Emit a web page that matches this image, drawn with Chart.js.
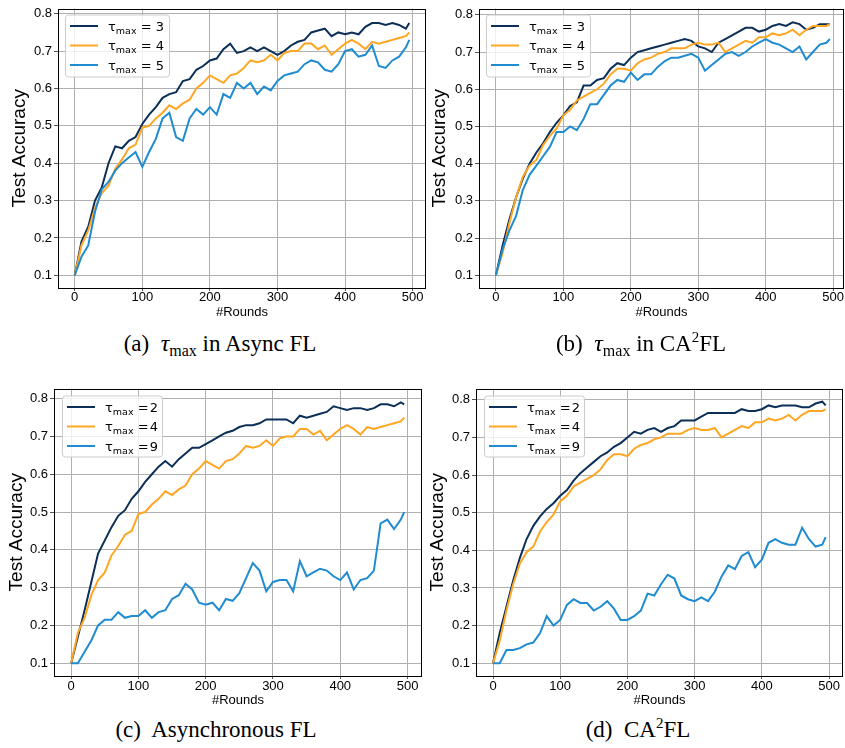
<!DOCTYPE html>
<html>
<head>
<meta charset="utf-8">
<script src="https://cdn.jsdelivr.net/npm/chart.js@4.4.1/dist/chart.umd.min.js"></script>
<style>
  body { margin: 0; background: #fff; }
  #page { position: relative; width: 845px; height: 748px; overflow: hidden; background: #fff; }
  canvas { position: absolute; }
  .cap {
    position: absolute; white-space: nowrap; transform: translateX(-50%);
    font-family: "Liberation Serif", "Times New Roman", serif; font-size: 23px; line-height: 1; color: #000;
  }
  .cap i { font-size: 24px; }
  .cap sub { font-size: 16px; vertical-align: -5px; line-height: 0; }
  .cap sup { font-size: 15px; vertical-align: 9px; line-height: 0; }
</style>
</head>
<body>
<div id="page">
  <canvas id="chartA" width="430" height="330" style="left:0;top:0"></canvas>
  <canvas id="chartB" width="424" height="330" style="left:421px;top:0"></canvas>
  <canvas id="chartC" width="430" height="330" style="left:0;top:380px"></canvas>
  <canvas id="chartD" width="424" height="330" style="left:421px;top:380px"></canvas>

  <div class="cap" style="left:220px;top:331px">(a)&nbsp;&nbsp;<i>τ</i><sub>max</sub> in Async FL</div>
  <div class="cap" style="left:641px;top:331px">(b)&nbsp;&nbsp;<i>τ</i><sub>max</sub> in CA<sup>2</sup>FL</div>
  <div class="cap" style="left:216px;top:718px">(c)&nbsp; Asynchronous FL</div>
  <div class="cap" style="left:638px;top:718px">(d)&nbsp; CA<sup>2</sup>FL</div>
</div>

<script>
// Datos: precisión de prueba cada 10 rondas
const rounds = [0, 10, 20, 30, 40, 50, 60, 70, 80, 90, 100, 110, 120, 130, 140, 150, 160, 170, 180, 190,
  200, 210, 220, 230, 240, 250, 260, 270, 280, 290, 300, 310, 320, 330, 340, 350, 360, 370, 380, 390,
  400, 410, 420, 430, 440, 450, 460, 470, 480, 490, 495];

const xTicks = [0, 100, 200, 300, 400, 500];
const yTicks = [0.1, 0.2, 0.3, 0.4, 0.5, 0.6, 0.7, 0.8];

// (a) Async FL
const asyncTau3 = [0.10, 0.19, 0.23, 0.30, 0.335, 0.40, 0.445, 0.44, 0.46, 0.47, 0.505, 0.53, 0.55, 0.575, 0.585, 0.59, 0.62, 0.625, 0.65, 0.66,
  0.675, 0.68, 0.705, 0.72, 0.695, 0.70, 0.71, 0.70, 0.71, 0.70, 0.69, 0.70, 0.715, 0.725, 0.73, 0.75, 0.755, 0.76, 0.74, 0.75,
  0.745, 0.75, 0.745, 0.765, 0.775, 0.775, 0.77, 0.775, 0.77, 0.76, 0.775];
const asyncTau4 = [0.10, 0.18, 0.22, 0.28, 0.32, 0.34, 0.385, 0.41, 0.44, 0.45, 0.495, 0.50, 0.52, 0.535, 0.555, 0.545, 0.56, 0.57, 0.60, 0.615,
  0.635, 0.625, 0.615, 0.635, 0.64, 0.655, 0.675, 0.67, 0.675, 0.69, 0.675, 0.695, 0.70, 0.70, 0.72, 0.72, 0.705, 0.715, 0.69, 0.705,
  0.72, 0.73, 0.72, 0.705, 0.725, 0.72, 0.725, 0.73, 0.735, 0.74, 0.75];
const asyncTau5 = [0.10, 0.15, 0.18, 0.27, 0.33, 0.35, 0.38, 0.40, 0.415, 0.43, 0.39, 0.43, 0.465, 0.52, 0.535, 0.47, 0.46, 0.52, 0.545, 0.53,
  0.55, 0.53, 0.585, 0.575, 0.615, 0.60, 0.615, 0.585, 0.605, 0.595, 0.62, 0.635, 0.64, 0.645, 0.665, 0.675, 0.67, 0.65, 0.645, 0.665,
  0.70, 0.705, 0.685, 0.69, 0.715, 0.66, 0.655, 0.675, 0.685, 0.71, 0.73];

// (b) CA2FL
const caTau3 = [0.10, 0.18, 0.25, 0.31, 0.36, 0.40, 0.43, 0.455, 0.485, 0.51, 0.53, 0.555, 0.565, 0.61, 0.61, 0.625, 0.63, 0.655, 0.67, 0.665,
  0.685, 0.70, 0.705, 0.71, 0.715, 0.72, 0.725, 0.73, 0.735, 0.73, 0.715, 0.71, 0.70, 0.725, 0.735, 0.745, 0.755, 0.765, 0.765, 0.755,
  0.76, 0.77, 0.775, 0.77, 0.78, 0.775, 0.76, 0.765, 0.775, 0.775, 0.775];
const caTau4 = [0.10, 0.16, 0.24, 0.31, 0.365, 0.395, 0.41, 0.45, 0.475, 0.495, 0.53, 0.545, 0.57, 0.58, 0.59, 0.60, 0.615, 0.64, 0.655, 0.655,
  0.65, 0.67, 0.68, 0.685, 0.695, 0.70, 0.71, 0.71, 0.71, 0.72, 0.725, 0.72, 0.72, 0.725, 0.70, 0.71, 0.72, 0.73, 0.725, 0.74,
  0.74, 0.75, 0.745, 0.75, 0.76, 0.745, 0.76, 0.77, 0.77, 0.77, 0.775];
const caTau5 = [0.10, 0.17, 0.22, 0.26, 0.33, 0.37, 0.395, 0.42, 0.445, 0.485, 0.485, 0.50, 0.49, 0.52, 0.56, 0.56, 0.585, 0.61, 0.625, 0.62,
  0.645, 0.625, 0.64, 0.64, 0.66, 0.675, 0.685, 0.685, 0.69, 0.695, 0.685, 0.65, 0.665, 0.68, 0.695, 0.70, 0.69, 0.70, 0.715, 0.725,
  0.735, 0.725, 0.72, 0.71, 0.70, 0.715, 0.68, 0.70, 0.72, 0.725, 0.735];

// (c) Asynchronous FL
const asyncTau2 = [0.10, 0.17, 0.24, 0.315, 0.39, 0.425, 0.46, 0.49, 0.505, 0.535, 0.555, 0.58, 0.60, 0.62, 0.635, 0.62, 0.64, 0.655, 0.67, 0.67,
  0.68, 0.69, 0.70, 0.71, 0.715, 0.725, 0.73, 0.73, 0.735, 0.745, 0.745, 0.745, 0.745, 0.735, 0.755, 0.75, 0.755, 0.76, 0.765, 0.78,
  0.775, 0.77, 0.775, 0.775, 0.77, 0.775, 0.785, 0.785, 0.78, 0.79, 0.785];
const asyncTau9 = [0.10, 0.10, 0.13, 0.16, 0.20, 0.215, 0.215, 0.235, 0.22, 0.225, 0.225, 0.24, 0.22, 0.235, 0.24, 0.27, 0.28, 0.31, 0.295, 0.26,
  0.255, 0.26, 0.24, 0.27, 0.265, 0.285, 0.325, 0.365, 0.345, 0.29, 0.315, 0.32, 0.32, 0.29, 0.37, 0.33, 0.34, 0.35, 0.345, 0.33,
  0.32, 0.34, 0.295, 0.32, 0.325, 0.345, 0.47, 0.48, 0.455, 0.48, 0.50];

// (d) CA2FL
const caTau2 = [0.10, 0.18, 0.25, 0.32, 0.38, 0.43, 0.465, 0.49, 0.51, 0.525, 0.545, 0.56, 0.585, 0.605, 0.62, 0.635, 0.65, 0.66, 0.675, 0.685,
  0.70, 0.715, 0.71, 0.72, 0.725, 0.715, 0.725, 0.73, 0.745, 0.745, 0.745, 0.755, 0.765, 0.765, 0.765, 0.765, 0.765, 0.775, 0.77, 0.77,
  0.775, 0.785, 0.78, 0.785, 0.785, 0.785, 0.78, 0.78, 0.79, 0.795, 0.785];
const caTau9 = [0.10, 0.10, 0.135, 0.135, 0.14, 0.15, 0.155, 0.18, 0.225, 0.20, 0.215, 0.255, 0.27, 0.26, 0.26, 0.24, 0.25, 0.265, 0.245, 0.215,
  0.215, 0.225, 0.24, 0.285, 0.28, 0.31, 0.335, 0.325, 0.28, 0.27, 0.265, 0.275, 0.265, 0.29, 0.33, 0.36, 0.35, 0.385, 0.395, 0.355,
  0.375, 0.42, 0.43, 0.42, 0.415, 0.415, 0.46, 0.43, 0.41, 0.415, 0.435];

const tauTop = ["3", "4", "5"];
const tauBottom = ["2", "4", "9"];

const colores = ["#0b2f57", "#ffa623", "#1f8bd0"];

// ==============================
// PLUGINS
// ==============================

// marco negro alrededor del área del gráfico
const marco = {
  id: "marco",
  afterDraw(chart) {
    const a = chart.chartArea, ctx = chart.ctx;
    ctx.save();
    ctx.strokeStyle = "#000";
    ctx.lineWidth = 1;
    ctx.strokeRect(Math.round(a.left) + 0.5, Math.round(a.top) + 0.5,
      Math.round(a.right - a.left) - 1, Math.round(a.bottom - a.top) - 1);
    ctx.restore();
  }
};

// leyenda con subíndice "max"
const leyenda = {
  id: "leyenda",
  afterDatasetsDraw(chart, args, opts) {
    const a = chart.chartArea, ctx = chart.ctx;
    const bx = a.left + opts.dx, by = a.top + opts.dy;
    ctx.save();
    ctx.beginPath();
    ctx.roundRect(bx + 0.5, by + 0.5, opts.w, opts.h, 3);
    ctx.fillStyle = "rgba(255,255,255,0.8)";
    ctx.fill();
    ctx.strokeStyle = "#cccccc";
    ctx.lineWidth = 1;
    ctx.stroke();
    opts.labels.forEach((lab, i) => {
      const ry = by + 11.5 + i * 19.5;
      ctx.strokeStyle = colores[i];
      ctx.lineWidth = 2;
      ctx.beginPath();
      ctx.moveTo(bx + 5, ry);
      ctx.lineTo(bx + 33, ry);
      ctx.stroke();
      ctx.fillStyle = "#000";
      ctx.textBaseline = "alphabetic";
      let x = bx + 43;
      const base = ry + 4.5;
      ctx.font = "13px 'DejaVu Sans'";
      ctx.fillText("τ", x, base);
      x += ctx.measureText("τ").width;
      ctx.font = "9.5px 'DejaVu Sans'";
      ctx.fillText("max", x, base + 3);
      x += ctx.measureText("max").width;
      ctx.font = "13px 'DejaVu Sans'";
      ctx.fillText(opts.compact ? " =\u200a" + lab : " = " + lab, x, base);
    });
    ctx.restore();
  }
};

// ==============================
// PANELES
// ==============================

function crearPanel(id, series, p) {
  const datasets = series.map((serie, i) => ({
    label: p.labels[i],
    data: rounds.map((r, j) => ({ x: r, y: serie[j] })),
    borderColor: colores[i],
    borderWidth: 2,
    pointRadius: 0,
    tension: 0,
    fill: false,
    order: 3 - i
  }));

  return new Chart(document.getElementById(id), {
    type: "line",
    data: { datasets },
    plugins: [marco, leyenda],
    options: {
      responsive: false,
      animation: false,
      devicePixelRatio: 1,
      layout: { padding: { left: 0, top: p.top, right: p.right, bottom: 0 } },
      plugins: {
        legend: { display: false },
        tooltip: { enabled: false },
        leyenda: { labels: p.labels, compact: p.compact, dx: p.legDx, dy: p.legDy, w: p.legW, h: p.legH }
      },
      scales: {
        x: {
          type: "linear",
          min: p.xMin, max: p.xMax,
          afterBuildTicks: s => { s.ticks = xTicks.map(v => ({ value: v })); },
          afterFit: s => { s.height = p.xH; },
          ticks: { font: { size: 13, lineHeight: 1 }, color: "#000", padding: p.xPad, maxRotation: 0 },
          grid: { color: "#b0b0b0", lineWidth: 1, tickLength: 3, tickColor: "#555" },
          border: { display: false },
          title: { display: true, text: "#Rounds", color: "#000", font: { size: 13 }, padding: { top: 0, bottom: p.xTitlePad } }
        },
        y: {
          min: p.yMin, max: p.yMax,
          afterBuildTicks: s => { s.ticks = yTicks.map(v => ({ value: v })); },
          afterFit: s => { s.width = p.yW; },
          ticks: { font: { size: 13, lineHeight: 1 }, color: "#000", padding: 2, callback: v => v.toFixed(1) },
          grid: { color: "#b0b0b0", lineWidth: 1, tickLength: 4, tickColor: "#555" },
          border: { display: false },
          title: { display: true, text: "Test Accuracy", color: "#000", font: { size: 19 }, padding: { top: p.yTitlePad, bottom: 0 } }
        }
      }
    }
  });
}

crearPanel("chartA", [asyncTau3, asyncTau4, asyncTau5], {
  labels: tauTop, compact: false, top: 1, right: 4, xH: 42, yW: 58,
  xMin: -24.75, xMax: 519.75, yMin: 0.066, yMax: 0.814,
  xPad: 0, xTitlePad: 10, yTitlePad: 8.5, legDx: 7, legDy: 6, legW: 104, legH: 62
});

crearPanel("chartB", [caTau3, caTau4, caTau5], {
  labels: tauTop, compact: false, top: 1, right: 1, xH: 42, yW: 58,
  xMin: -25, xMax: 516, yMin: 0.066, yMax: 0.817,
  xPad: 0, xTitlePad: 10, yTitlePad: 7.5, legDx: 7, legDy: 6, legW: 104, legH: 62
});

crearPanel("chartC", [asyncTau2, asyncTau4, asyncTau9], {
  labels: tauBottom, compact: true, top: 4, right: 8, xH: 34, yW: 54,
  xMin: -25.5, xMax: 521.5, yMin: 0.066, yMax: 0.827,
  xPad: 1, xTitlePad: 1.7, yTitlePad: 5.5, legDx: 8, legDy: 7, legW: 100, legH: 61
});

crearPanel("chartD", [caTau2, caTau4, caTau9], {
  labels: tauBottom, compact: true, top: 5, right: 2, xH: 34, yW: 55,
  xMin: -25.3, xMax: 520.8, yMin: 0.066, yMax: 0.83,
  xPad: 1, xTitlePad: 1.7, yTitlePad: 5, legDx: 8, legDy: 7, legW: 100, legH: 61
});
</script>
</body>
</html>
